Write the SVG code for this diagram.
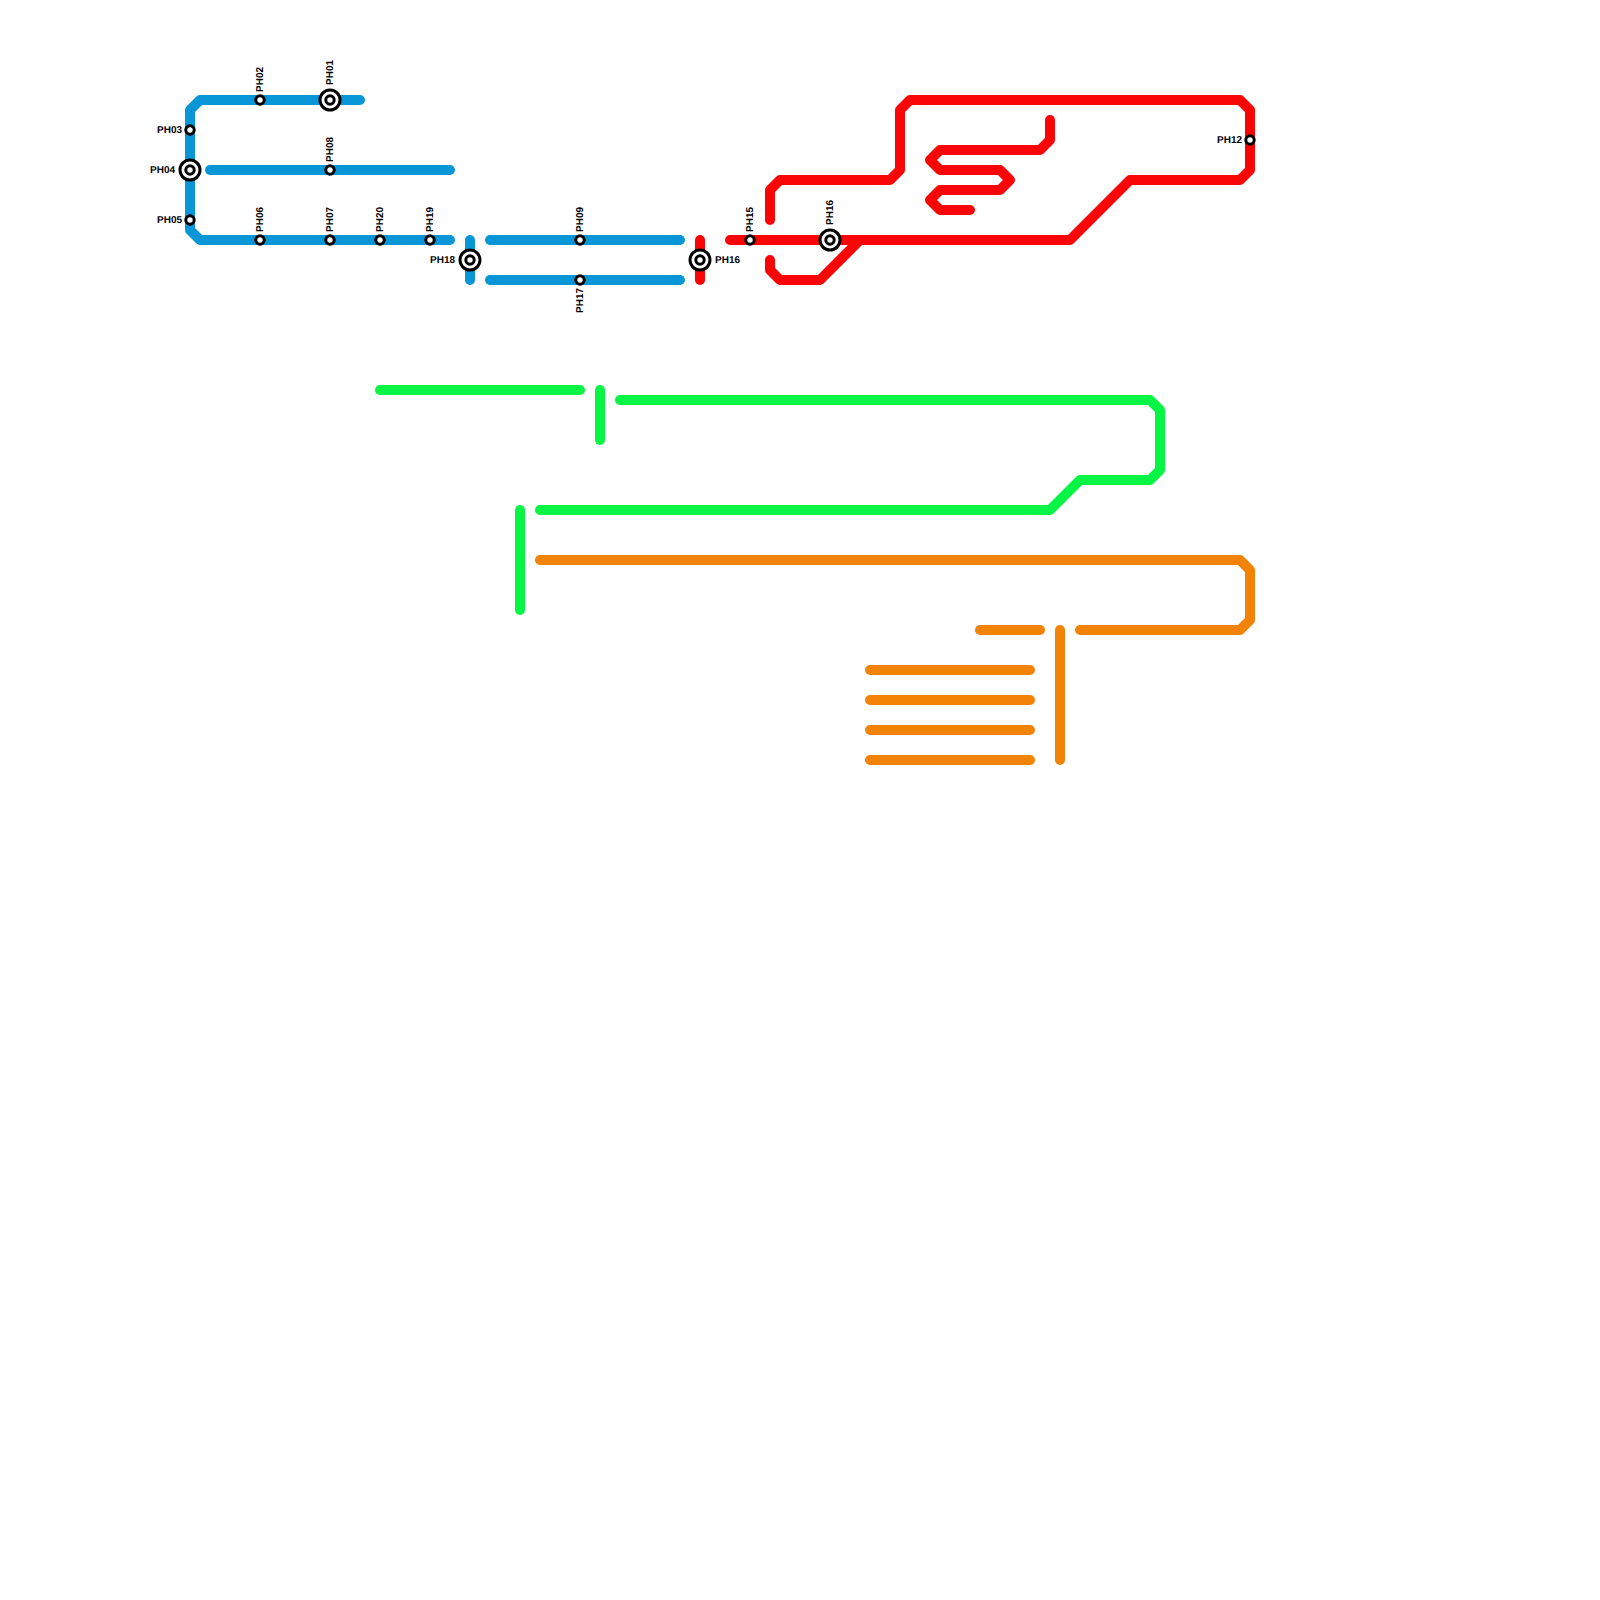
<svg xmlns="http://www.w3.org/2000/svg" width="1600" height="1600" viewBox="0 0 1600 1600">
<style>
.l{fill:none;stroke-width:10;stroke-linecap:round;stroke-linejoin:round}
.b{stroke:#0896d7}.r{stroke:#fa0505}.g{stroke:#08f546}.o{stroke:#f28307}
.s{fill:#fff;stroke:#000;stroke-width:3}
text{font-family:"Liberation Sans",Arial,sans-serif;font-size:10px;font-weight:700;fill:#000;text-rendering:geometricPrecision}
.e{text-anchor:end}
</style>
<defs>
<g id="st"><circle class="s" r="4.2"/></g>
<g id="ic"><circle class="s" r="10"/><circle class="s" r="4.2"/></g>
</defs>
<rect width="1600" height="1600" fill="#fff"/>
<g id="connectors">
<path class="l b" d="M360 100H200L190 110V230L200 240H450"/>
<path class="l b" d="M210 170H450"/>
<path class="l b" d="M470 240V280"/>
<path class="l b" d="M490 240H680"/>
<path class="l b" d="M490 280H680"/>
<path class="l r" d="M700 240V280"/>
<path class="l r" d="M730 240H1070L1130 180H1240L1250 170V110L1240 100H910L900 110V170L890 180H780L770 190V220"/>
<path class="l r" d="M770 260V270L780 280H820L860 240"/>
<path class="l r" d="M1050 120V140L1040 150H940L930 160L940 170H1000L1010 180L1000 190H940L930 200L940 210H970"/>
<path class="l g" d="M380 390H580"/>
<path class="l g" d="M600 390V440"/>
<path class="l g" d="M620 400H1150L1160 410V470L1150 480H1080L1050 510H540"/>
<path class="l g" d="M520 510V610"/>
<path class="l o" d="M540 560H1240L1250 570V620L1240 630H1080"/>
<path class="l o" d="M980 630H1040"/>
<path class="l o" d="M1060 630V760"/>
<path class="l o" d="M870 670H1030"/>
<path class="l o" d="M870 700H1030"/>
<path class="l o" d="M870 730H1030"/>
<path class="l o" d="M870 760H1030"/>
</g>
<g id="PH01"><use href="#ic" x="330" y="100"/><text transform="translate(333 85) rotate(-90)">PH01</text></g>
<g id="PH02"><use href="#st" x="260" y="100"/><text transform="translate(263 92) rotate(-90)">PH02</text></g>
<g id="PH03"><use href="#st" x="190" y="130"/><text class="e" x="182" y="133">PH03</text></g>
<g id="PH04"><use href="#ic" x="190" y="170"/><text class="e" x="175" y="173">PH04</text></g>
<g id="PH05"><use href="#st" x="190" y="220"/><text class="e" x="182" y="223">PH05</text></g>
<g id="PH06"><use href="#st" x="260" y="240"/><text transform="translate(263 232) rotate(-90)">PH06</text></g>
<g id="PH07"><use href="#st" x="330" y="240"/><text transform="translate(333 232) rotate(-90)">PH07</text></g>
<g id="PH08"><use href="#st" x="330" y="170"/><text transform="translate(333 162) rotate(-90)">PH08</text></g>
<g id="PH20"><use href="#st" x="380" y="240"/><text transform="translate(383 232) rotate(-90)">PH20</text></g>
<g id="PH19"><use href="#st" x="430" y="240"/><text transform="translate(433 232) rotate(-90)">PH19</text></g>
<g id="PH18"><use href="#ic" x="470" y="260"/><text class="e" x="455" y="263">PH18</text></g>
<g id="PH09"><use href="#st" x="580" y="240"/><text transform="translate(583 232) rotate(-90)">PH09</text></g>
<g id="PH17"><use href="#st" x="580" y="280"/><text class="e" transform="translate(583 288) rotate(-90)">PH17</text></g>
<g id="PH16a"><use href="#ic" x="700" y="260"/><text x="715" y="263">PH16</text></g>
<g id="PH15"><use href="#st" x="750" y="240"/><text transform="translate(753 232) rotate(-90)">PH15</text></g>
<g id="PH16b"><use href="#ic" x="830" y="240"/><text transform="translate(833 225) rotate(-90)">PH16</text></g>
<g id="PH12"><use href="#st" x="1250" y="140"/><text class="e" x="1242" y="143">PH12</text></g>
</svg>
